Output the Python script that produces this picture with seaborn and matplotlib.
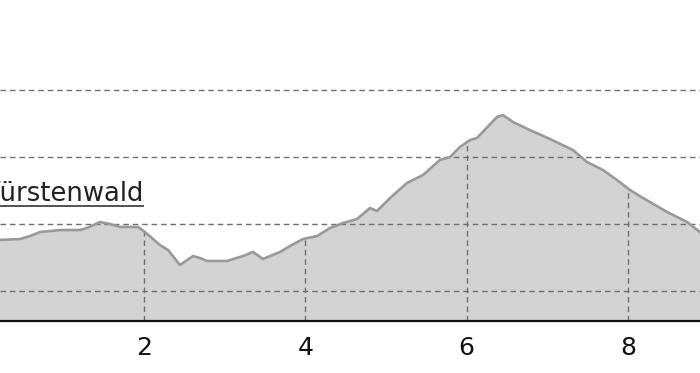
import numpy as np
import pandas as pd
import matplotlib
matplotlib.use("Agg")
import matplotlib.pyplot as plt
import seaborn as sns

# Elevation profile: distance along the route (km) and elevation (m)
distance_km = [0.09, 0.215, 0.463, 0.587, 0.711, 0.959, 1.206, 1.293, 1.454, 1.579,
               1.703, 1.926, 2.012, 2.198, 2.298, 2.446, 2.608, 2.694, 2.781, 3.029,
               3.227, 3.351, 3.475, 3.686, 3.810, 3.971, 4.145, 4.306, 4.467, 4.640,
               4.801, 4.888, 5.050, 5.260, 5.459, 5.669, 5.793, 5.917, 6.041, 6.128,
               6.376, 6.450, 6.574, 6.785, 7.033, 7.318, 7.491, 7.690, 7.863, 8.024,
               8.186, 8.272, 8.483, 8.731, 8.892, 9.078]
elevation_m = [138.1, 138.1, 138.8, 141.0, 144.0, 145.5, 145.5, 147.0, 151.5, 150.0,
               147.8, 147.8, 144.0, 134.3, 130.6, 119.4, 126.1, 124.6, 122.4, 122.4,
               126.1, 129.1, 123.9, 129.1, 133.6, 138.8, 141.0, 147.0, 150.7, 153.7,
               161.9, 159.7, 169.4, 180.6, 186.6, 197.8, 200.0, 207.5, 212.7, 214.2,
               229.9, 231.3, 226.1, 220.1, 213.4, 205.2, 196.3, 190.3, 182.8, 175.4,
               169.4, 166.4, 159.0, 151.5, 144.0, 138.1]

x_ticks = [2, 4, 6, 8]
y_grid = [100, 150, 200, 250]
place_name = "Fürstenwald"
place_km = 2.0
place_elev = 167.0

profile = pd.DataFrame({"km": distance_km, "elev": elevation_m})

sns.set_theme(style="white")
plt.rcParams["font.family"] = ["DejaVu Sans"]

fig = plt.figure(figsize=(7.0, 3.73), dpi=100)
ax = fig.add_axes([0.0, 52 / 373, 1.0, 321 / 373])

y_min, y_max = 77.6, 317.2
x_min, x_max = 0.215, 8.892

grid_color = "#6f6f6f"
dash = (0, (4.0, 2.8))

# filled terrain
ax.fill_between(profile["km"], y_min, profile["elev"], color="#d3d3d3", lw=0, zorder=1)

# horizontal guide lines across the whole plot
for yv in y_grid:
    ax.axhline(yv, color=grid_color, lw=1.0, linestyle=dash, zorder=2)

# vertical guide lines only inside the terrain
for xv in x_ticks:
    top = np.interp(xv, profile["km"], profile["elev"])
    ax.vlines(xv, y_min, top, color=grid_color, lw=1.0, linestyle=dash, zorder=2)

# terrain outline
sns.lineplot(data=profile, x="km", y="elev", ax=ax, color="#999999",
             linewidth=1.9, zorder=3, legend=False)

ax.set_xlim(x_min, x_max)
ax.set_ylim(y_min, y_max)
ax.set_xticks(x_ticks)
ax.set_xticklabels([str(t) for t in x_ticks])
ax.set_yticks([])
ax.set_xlabel("")
ax.set_ylabel("")
ax.tick_params(axis="x", length=0, pad=11, labelsize=18, labelcolor="#111111")

for side in ["top", "left", "right"]:
    ax.spines[side].set_visible(False)
ax.spines["bottom"].set_color("#111111")
ax.spines["bottom"].set_linewidth(1.6)
ax.spines["bottom"].set_zorder(4)

# place label with underline
label = ax.text(place_km, place_elev, place_name, ha="right", va="baseline",
                fontsize=18.6, color="#222222", zorder=5)
fig.canvas.draw()
bb = label.get_window_extent(renderer=fig.canvas.get_renderer())
inv = ax.transData.inverted()
(x0, _), (x1, _) = inv.transform([(bb.x0, 0), (bb.x1, 0)])
_, y_line = inv.transform((0, ax.transData.transform((0, place_elev))[1] - 5))
ax.plot([x0, x1], [y_line, y_line], color="#444444", lw=1.3, zorder=5,
        solid_capstyle="butt")

fig.savefig("out.png", dpi=100)
